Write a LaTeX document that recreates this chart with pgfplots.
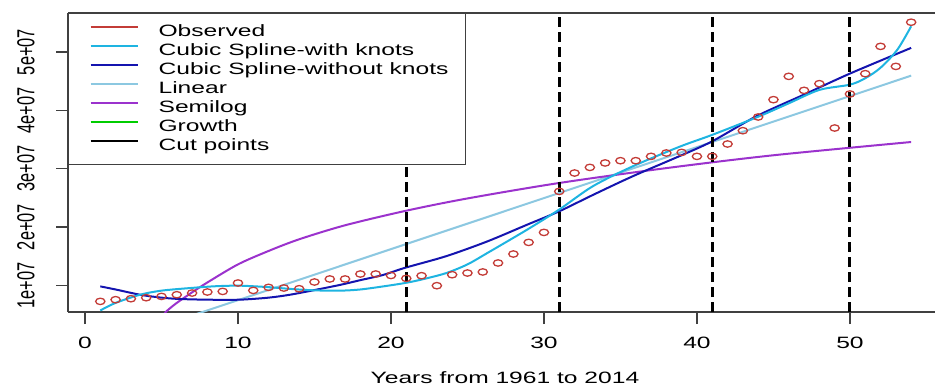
\documentclass[border=0pt]{standalone}
\usepackage{fontspec}
\setmainfont{Liberation Sans}[FakeStretch=1.5]
\newfontfamily\plainfont{Liberation Sans}
\usepackage{graphicx}
\usepackage{pgfplots}
\pgfplotsset{compat=1.18}
\definecolor{obsred}{RGB}{195,60,55}
\definecolor{cyanspl}{RGB}{30,180,225}
\definecolor{darkspl}{RGB}{20,20,175}
\definecolor{linblue}{RGB}{140,200,225}
\definecolor{semipur}{RGB}{155,50,205}
\definecolor{growgreen}{RGB}{0,205,0}
\newcommand{\f}{\fontsize{8.2}{9.8}\selectfont}
\begin{document}
\begin{tikzpicture}
\useasboundingbox (-34pt,-39pt) rectangle (433.5pt,156pt);
\begin{axis}[
  at={(0pt,0pt)}, anchor=south west,
  scale only axis, width=433.5pt, height=149.5pt,
  xmin=-1.11, xmax=55.56, ymin=0.544, ymax=5.668,
  axis x line*=box, axis y line*=left,
  axis line style={black!75, line width=0.6pt},
  xtick pos=bottom,
  tick align=outside, major tick length=6pt,
  tick style={black!75, line width=0.6pt},
  xtick={0,10,20,30,40,50}, xticklabels={0,10,20,30,40,50},
  ytick={1,2,3,4,5},
  yticklabels={\scalebox{1}[1.5]{1e+07},\scalebox{1}[1.5]{2e+07},\scalebox{1}[1.5]{3e+07},\scalebox{1}[1.5]{4e+07},\scalebox{1}[1.5]{5e+07}},
  xticklabel style={font=\f, anchor=center, yshift=-9.5pt},
  yticklabel style={font=\plainfont\fontsize{8.2}{9.8}\selectfont, xshift=-15pt, rotate=90, anchor=center},
  xlabel={Years from 1961 to 2014},
  xlabel style={font=\f, at={(axis description cs:0.504,0)}, anchor=center, yshift=-33pt},
  legend style={at={(0,1)}, anchor=north west, draw=black!75, line width=0.6pt, fill=white,
    inner xsep=8.5pt, inner ysep=5.5pt, row sep=2pt, column sep=0pt, font=\f,
    nodes={inner sep=0pt, text height=6pt, text depth=1.5pt}},
  legend cell align=left,
  legend image code/.code={\path (0pt,0pt) (35.5pt,0pt); \draw[#1] (2pt,2.6pt) -- (25.5pt,2.6pt);},
]
% Observed
\addplot[only marks, mark=o, mark size=1.6pt, mark options={obsred, line width=0.65pt, xscale=1.45}, forget plot] coordinates {
(1,0.726) (2,0.755) (3,0.772) (4,0.789) (5,0.811) (6,0.840) (7,0.869) (8,0.887) (9,0.897) (10,1.041)
(11,0.914) (12,0.966) (13,0.955) (14,0.943) (15,1.058) (16,1.11) (17,1.11) (18,1.195) (19,1.195) (20,1.17)
(21,1.12) (22,1.166) (23,0.995) (24,1.183) (25,1.212) (26,1.23) (27,1.384) (28,1.538) (29,1.737) (30,1.908)
(31,2.611) (32,2.926) (33,3.022) (34,3.098) (35,3.137) (36,3.137) (37,3.211) (38,3.269) (39,3.279) (40,3.211)
(41,3.211) (42,3.423) (43,3.651) (44,3.886) (45,4.183) (46,4.582) (47,4.342) (48,4.457) (49,3.697) (50,4.28)
(51,4.628) (52,5.096) (53,4.753) (54,5.51)};
% Linear
\addplot[linblue, line width=1pt, forget plot] coordinates {(1,-0.04) (54,4.594)};
% Semilog
\addplot[semipur, line width=1pt, smooth, forget plot] coordinates {
(5.0,0.45) (5.3,0.55) (6,0.70) (7,0.88) (8,1.05) (10,1.36) (12,1.59) (14,1.79) (17,2.03) (21,2.28) (25,2.49) (31,2.755) (38,3.01) (45,3.23) (54,3.457)};
% Cubic spline without knots
\addplot[darkspl, line width=1pt, smooth, forget plot] coordinates {
(1,0.983) (2,0.93) (3.6,0.84) (5,0.79) (6.2,0.767) (8,0.755) (10.1,0.755) (12,0.79) (13.4,0.84) (15,0.92) (16.7,1.01) (18,1.09) (19.5,1.18) (20.9,1.30) (23.6,1.50) (26.3,1.754) (28.9,2.04) (31,2.27) (33.2,2.55) (35.8,2.87) (38.9,3.22) (41,3.47) (43.9,3.90) (47,4.27) (50,4.63) (54,5.07)};
% Cubic spline with knots
\addplot[cyanspl, line width=1pt, smooth, forget plot] coordinates {
(1,0.57) (2,0.70) (3.6,0.84) (5,0.91) (6.9,0.955) (8.5,0.985) (10.1,0.995) (12,0.97) (13.4,0.94) (15,0.915) (16.7,0.91) (18,0.93) (19.5,0.983) (20.9,1.04) (22,1.10) (23.6,1.21) (25,1.36) (26.3,1.555) (28.9,1.955) (31,2.30) (33.2,2.70) (35.8,3.04) (38.9,3.38) (41,3.58) (44,3.89) (46,4.12) (48,4.35) (50,4.44) (51,4.55) (52,4.73) (53.1,5.04) (54,5.44)};
% Cut points
\addplot[black, line width=1.5pt, dash pattern=on 5pt off 2.5pt, forget plot] coordinates {(21,0.544) (21,5.65)};
\addplot[black, line width=1.5pt, dash pattern=on 5pt off 2.5pt, forget plot] coordinates {(31,0.544) (31,5.65)};
\addplot[black, line width=1.5pt, dash pattern=on 5pt off 2.5pt, forget plot] coordinates {(41,0.544) (41,5.65)};
\addplot[black, line width=1.5pt, dash pattern=on 5pt off 2.5pt, forget plot] coordinates {(50,0.544) (50,5.65)};
\addlegendimage{obsred, line width=1pt}\addlegendentry{Observed}
\addlegendimage{cyanspl, line width=1pt}\addlegendentry{Cubic Spline-with knots}
\addlegendimage{darkspl, line width=1pt}\addlegendentry{Cubic Spline-without knots}
\addlegendimage{linblue, line width=1pt}\addlegendentry{Linear}
\addlegendimage{semipur, line width=1pt}\addlegendentry{Semilog}
\addlegendimage{growgreen, line width=1pt}\addlegendentry{Growth}
\addlegendimage{black, line width=1pt}\addlegendentry{Cut points}
\end{axis}
\end{tikzpicture}
\end{document}
